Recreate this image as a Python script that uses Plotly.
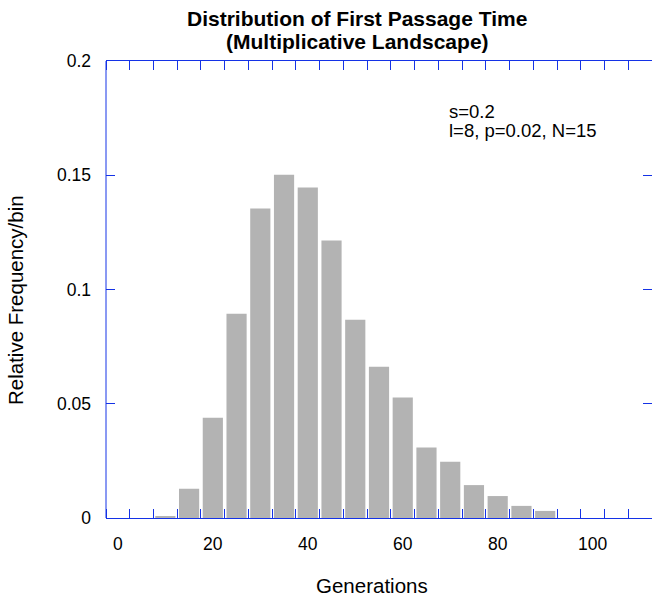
import plotly.graph_objects as go

# Data (bin centres, relative frequency per bin)
generations = [10, 15, 20, 25, 30, 35, 40, 45, 50, 55, 60, 65, 70, 75, 80, 85, 90]
rel_freq = [0.0006, 0.0128, 0.0439, 0.0894, 0.1354, 0.1502, 0.1446, 0.1214,
            0.0868, 0.0662, 0.0527, 0.0308, 0.0246, 0.0144, 0.0096, 0.0053, 0.0031]
x_tick_labels = [0, 20, 40, 60, 80, 100]
y_tick_labels = [0, 0.05, 0.1, 0.15, 0.2]
title_lines = ["Distribution of First Passage Time", "(Multiplicative Landscape)"]
note_lines = ["s=0.2", "l=8, p=0.02, N=15"]

AXIS = "#1432e6"
FONT = "Liberation Sans, Arial, Helvetica, sans-serif"

# plot area in pixels: x 106..652, y 61..518
PL, PW, PB, PH = 106, 546, 518, 457


def px(x):
    return (x - PL) / PW


def py(y):
    return (PB - y) / PH


fig = go.Figure()
fig.add_trace(go.Bar(
    x=generations, y=rel_freq, width=[4.25] * len(generations),
    marker=dict(color="#b3b3b3", line=dict(width=0)),
    showlegend=False, hoverinfo="x+y",
))

annotations = []
for i, t in enumerate(title_lines):
    annotations.append(dict(
        text="<b>%s</b>" % t, xref="paper", yref="paper",
        x=px(357), y=py(18 + 24 * i), xanchor="center", yanchor="middle",
        showarrow=False, font=dict(family=FONT, size=21, color="black")))
for i, t in enumerate(note_lines):
    annotations.append(dict(
        text=t, xref="paper", yref="paper",
        x=px(447), y=py(111 + 19 * i), xanchor="left", yanchor="middle",
        showarrow=False, font=dict(family=FONT, size=18.5, color="black")))
annotations += [
    dict(text="Relative Frequency/bin", xref="paper", yref="paper",
         x=px(15), y=py(300), textangle=-90,
         xanchor="center", yanchor="middle", showarrow=False,
         font=dict(family=FONT, size=20.5, color="black")),
    dict(text="Generations", xref="paper", yref="paper",
         x=px(372), y=py(585),
         xanchor="center", yanchor="middle", showarrow=False,
         font=dict(family=FONT, size=20.5, color="black")),
]

fig.update_layout(
    width=652, height=597,
    margin=dict(l=PL, r=0, t=61, b=597 - PB),
    paper_bgcolor="white", plot_bgcolor="white",
    font=dict(family=FONT, size=17, color="black"),
    xaxis=dict(
        range=[-2.5, 112.5], showgrid=False, zeroline=False,
        showline=True, linecolor=AXIS, linewidth=1, mirror="ticks",
        tickvals=x_tick_labels, ticktext=[str(v) for v in x_tick_labels],
        ticks="", ticklabelstandoff=10,
        tickfont=dict(family=FONT, size=17.5, color="black"),
        minor=dict(ticks="inside", tick0=2.5, dtick=5, ticklen=9,
                   tickcolor=AXIS, tickwidth=1, showgrid=False),
    ),
    yaxis=dict(
        range=[0, 0.2], showgrid=False, zeroline=False,
        showline=False, mirror="ticks",
        tickvals=y_tick_labels, ticktext=["0", "0.05", "0.1", "0.15", "0.2"],
        ticks="inside", ticklen=9, tickcolor=AXIS, tickwidth=1,
        ticklabelstandoff=14,
        tickfont=dict(family=FONT, size=17.5, color="black"),
    ),
    shapes=[dict(type="line", xref="paper", yref="paper", x0=0, x1=0, y0=0, y1=1,
                 line=dict(color=AXIS, width=1))],
    annotations=annotations,
)

fig.write_html("out.html")
